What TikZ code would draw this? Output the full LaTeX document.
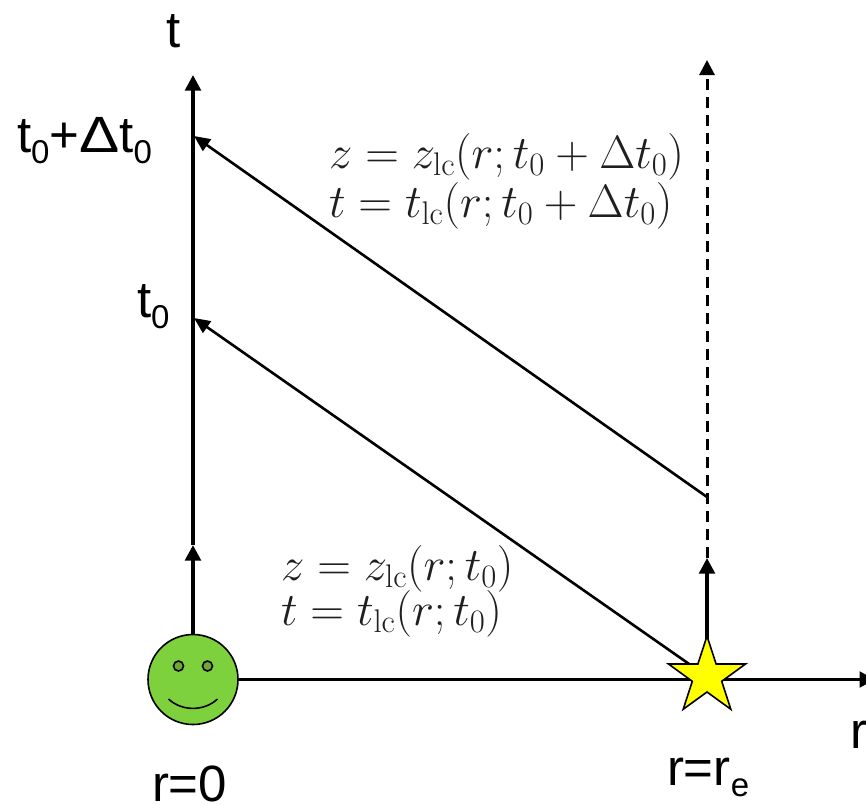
\RequirePackage{fix-cm}
\documentclass[tikz,border=0pt]{standalone}
\usepackage[no-math]{fontspec}
\setmainfont{Liberation Sans}
\usetikzlibrary{arrows.meta,shapes.geometric}
\newcommand{\lowsub}[1]{\raisebox{-11pt}{\fontsize{33}{33}\selectfont #1}}
\newcommand{\lc}{\mathrm{lc}}
\newcommand{\wideDelta}{\scalebox{1.18}[1]{Δ}}
\definecolor{faceg}{HTML}{7DD13D}
\definecolor{eyeg}{HTML}{6FA832}
\definecolor{stary}{HTML}{FFFF00}
\tikzset{
  axis/.style={line width=3.5pt,-{Triangle[length=15.5pt,width=15.5pt]}},
  ray/.style={line width=2.6pt,-{Triangle[length=16pt,width=14pt]}},
  extend/.style={line width=3pt,dash pattern=on 11pt off 7pt,-{Triangle[length=15pt,width=15pt]}},
  lab/.style={inner sep=0pt,outer sep=0pt,anchor=base west,font=\fontsize{51}{51}\selectfont},
  eqn/.style={inner sep=0pt,outer sep=0pt,anchor=base west,text=black!88,font=\fontsize{46.7}{46.7}\selectfont},
  face/.style={circle,draw=black,line width=1.6pt,fill=faceg,minimum size=90pt,inner sep=0pt},
  eye/.style={circle,draw=black,line width=1.6pt,fill=eyeg,minimum size=10pt,inner sep=0pt},
  startip/.style={star,star points=5,star point ratio=2.618,draw=black,line width=1.6pt,fill=stary,minimum size=81pt,inner sep=0pt}
}
\begin{document}
\begin{tikzpicture}[x=1pt,y=-1pt]
\useasboundingbox (0,0) rectangle (866,804);
% anchors
\coordinate (origin) at (193,679.5);
\coordinate (tmid) at (193,545);
\coordinate (ttop) at (193,75);
\coordinate (rend) at (875,679.5);
\coordinate (t1) at (194,318);
\coordinate (t2) at (194,136);
\coordinate (emid) at (707,558);
\coordinate (etop) at (707,60);
\coordinate (elate) at (707,497);
\coordinate (srccentre) at (707,676.5);
% axes and rays (under the symbols)
\node[face] (obs) at (origin) {};
\draw[axis] (obs.north) -- (tmid);
\draw[axis] (tmid) -- (ttop);
\draw[axis] (obs.east) -- (rend);
\draw[ray] (srccentre) -- (t1);
\draw[ray] (elate) -- (t2);
\draw[axis] (srccentre) -- (emid);
\draw[extend] (emid) -- (etop);
% star and face details
\node[startip] (src) at (srccentre) {};
\node[eye] (eyeL) at (178.5,666) {};
\node[eye] (eyeR) at (207.5,666) {};
\coordinate (smileL) at (168.5,699);
\coordinate (smileR) at (217.5,699);
\draw[line width=1.6pt] (smileL) .. controls (182,711.5) and (204,711.5) .. (smileR);
% labels
\node[lab] (tlab) at (166,47) {t};
\node[lab] (rlab) at (850,748) {r};
\node[lab] (t0plus) at (17,152) {t\lowsub{0}+\wideDelta t\lowsub{0}};
\node[lab] (t0lab) at (137,317) {t\lowsub{0}};
\node[lab] (r0lab) at (152,801) {r=0};
\node[lab] (relab) at (667,785) {r=r\lowsub{e}};
\node[eqn] (eqa) at (329,168) {$z=z_{\lc}(r;t_0+\Delta t_0)$};
\node[eqn] (eqb) at (329,217) {$t=t_{\lc}(r;t_0+\Delta t_0)$};
\node[eqn] (eqc) at (281,580) {$z=z_{\lc}(r;t_0)$};
\node[eqn] (eqd) at (281,625) {$t=t_{\lc}(r;t_0)$};
\end{tikzpicture}
\end{document}
